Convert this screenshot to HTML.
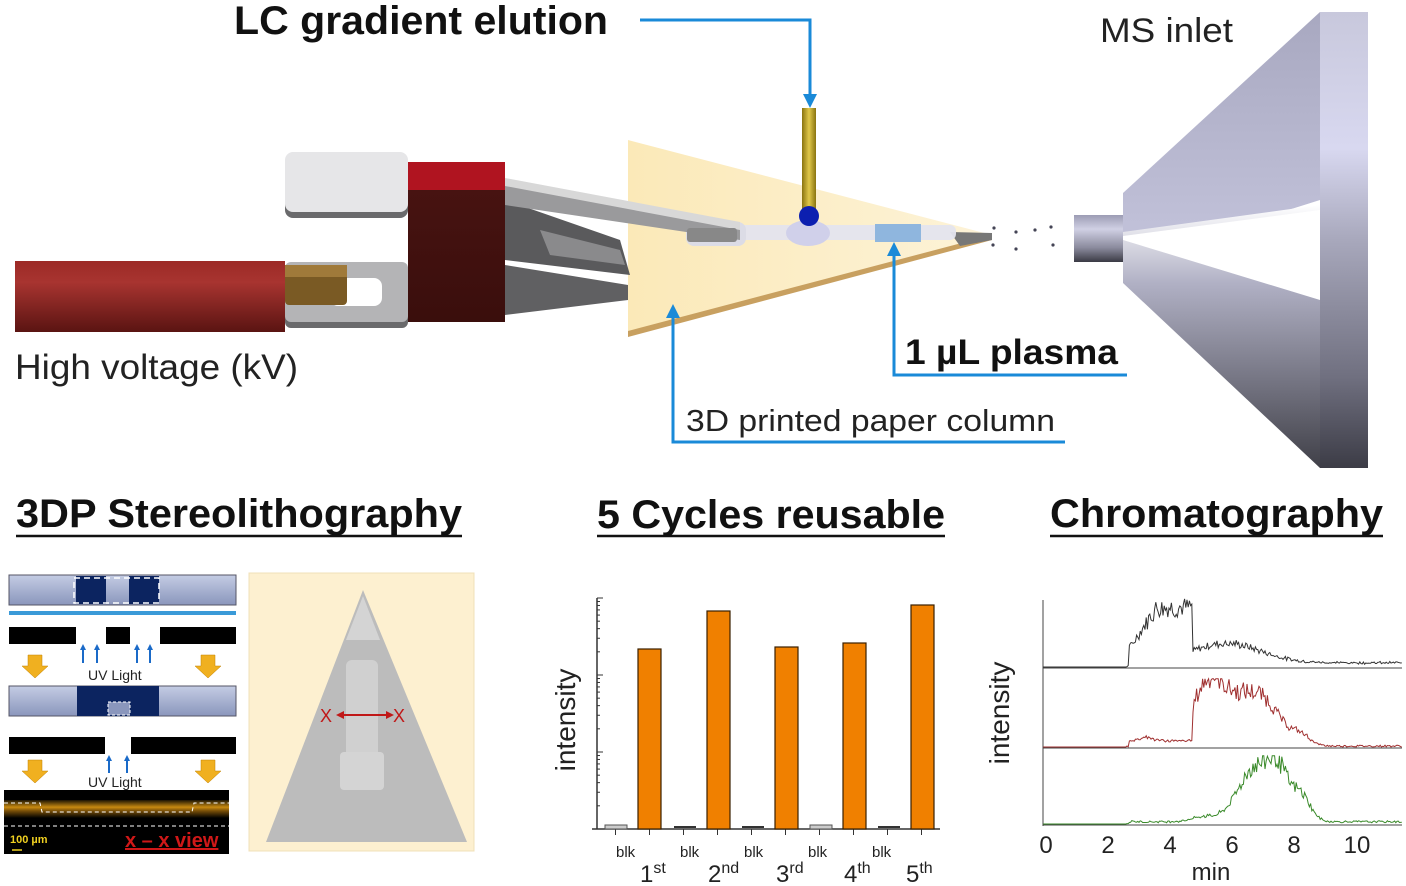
<!DOCTYPE html>
<html><head><meta charset="utf-8"><style>
html,body{margin:0;padding:0;background:#fff;}
svg{display:block;font-family:"Liberation Sans",Arial,sans-serif;}
</style></head><body>
<svg id="s" width="1406" height="886" viewBox="0 0 1406 886" xmlns="http://www.w3.org/2000/svg">
<defs>
<linearGradient id="cable" x1="0" y1="0" x2="0" y2="1"><stop offset="0" stop-color="#9c2a26"/><stop offset="0.3" stop-color="#a83430"/><stop offset="1" stop-color="#5a1412"/></linearGradient>
<linearGradient id="redb" x1="0" y1="0" x2="0" y2="1"><stop offset="0" stop-color="#4a1412"/><stop offset="1" stop-color="#3a0e0c"/></linearGradient>
<linearGradient id="gold" x1="0" y1="0" x2="1" y2="0"><stop offset="0" stop-color="#8a7410"/><stop offset="0.5" stop-color="#e0c84a"/><stop offset="1" stop-color="#8a7410"/></linearGradient>
<linearGradient id="paper" x1="0" y1="0" x2="1" y2="0"><stop offset="0" stop-color="#fbe9b8"/><stop offset="1" stop-color="#fdf3d8"/></linearGradient>
<linearGradient id="flange" x1="0" y1="0" x2="0" y2="1"><stop offset="0" stop-color="#c8c8dc"/><stop offset="0.3" stop-color="#d8d8f0"/><stop offset="0.5" stop-color="#a8a8bc"/><stop offset="0.8" stop-color="#707080"/><stop offset="1" stop-color="#3c3c46"/></linearGradient>
<linearGradient id="coneT" x1="0" y1="0" x2="0" y2="1"><stop offset="0" stop-color="#a8a8c0"/><stop offset="1" stop-color="#c4c4dc"/></linearGradient>
<linearGradient id="coneB" x1="0" y1="0" x2="0" y2="1"><stop offset="0" stop-color="#ffffff"/><stop offset="0.3" stop-color="#b0b0c4"/><stop offset="1" stop-color="#404048"/></linearGradient>
<linearGradient id="tube" x1="0" y1="0" x2="0" y2="1"><stop offset="0" stop-color="#9c9cb4"/><stop offset="0.3" stop-color="#d0d0e4"/><stop offset="0.7" stop-color="#8a8a9c"/><stop offset="1" stop-color="#3a3a44"/></linearGradient>
<linearGradient id="slab" x1="0" y1="0" x2="0" y2="1"><stop offset="0" stop-color="#c4cce4"/><stop offset="1" stop-color="#8a96bc"/></linearGradient>
<linearGradient id="fl" x1="0" y1="0" x2="0" y2="1"><stop offset="0" stop-color="#1c1404"/><stop offset="0.4" stop-color="#c88a10"/><stop offset="0.6" stop-color="#7a5008"/><stop offset="1" stop-color="#000"/></linearGradient>
</defs>

<!-- MS inlet -->
<polygon points="1123,193 1320,12 1320,200 1123,262" fill="url(#coneT)"/>
<polygon points="1123,232 1320,205 1320,468 1123,283" fill="url(#coneB)"/>
<polygon points="1123,236 1320,210 1320,300 1123,240" fill="#ffffff"/>
<rect x="1320" y="12" width="48" height="456" fill="url(#flange)"/>
<rect x="1074" y="215" width="49" height="47" fill="url(#tube)"/>
<text x="1100" y="42" font-size="34" fill="#222" textLength="133" lengthAdjust="spacingAndGlyphs">MS inlet</text>

<!-- paper -->
<polygon points="628,140 992,235 628,335" fill="url(#paper)"/>
<polygon points="628,331 992,235 992,240 628,337" fill="#c8a060"/>
<polygon points="950,232 992,233 992,240 960,246" fill="#777"/>
<rect x="686" y="225" width="270" height="15" rx="6" fill="#e4e4ee" opacity="0.95"/>
<rect x="686" y="222" width="60" height="24" rx="8" fill="#dcdce6"/>
<ellipse cx="808" cy="233" rx="22" ry="13" fill="#d0d0ea"/>
<rect x="875" y="224" width="46" height="18" fill="#8fb6de"/>
<rect x="802" y="108" width="14" height="102" fill="url(#gold)"/>
<circle cx="809" cy="216" r="10" fill="#0c1fb0"/>
<g fill="#445">
<circle cx="994" cy="228" r="1.6"/><circle cx="1016" cy="232" r="1.6"/><circle cx="1035" cy="230" r="1.6"/><circle cx="1051" cy="227" r="1.6"/>
<circle cx="993" cy="245" r="1.6"/><circle cx="1016" cy="249" r="1.6"/><circle cx="1053" cy="245" r="1.6"/>
</g>

<!-- holder -->
<polygon points="505,200 620,240 630,275 505,260" fill="#5a5a5c"/>
<polygon points="505,265 628,285 628,300 505,315" fill="#606062"/>
<polygon points="540,230 620,250 625,265 550,255" fill="#8a8a8c"/>
<polygon points="505,180 740,225 740,240 505,205" fill="#9a9a9c"/>
<polygon points="505,178 740,222 740,230 505,186" fill="#d8d8d8"/>
<rect x="687" y="228" width="50" height="14" rx="3" fill="#888"/>
<rect x="285" y="156" width="123" height="62" rx="8" fill="#6a6a6c"/>
<rect x="285" y="152" width="123" height="60" rx="8" fill="#e6e6e8"/>
<rect x="285" y="264" width="123" height="64" rx="6" fill="#6a6a6c"/>
<rect x="285" y="262" width="123" height="60" rx="6" fill="#b4b4b6"/>
<rect x="330" y="278" width="52" height="28" rx="8" fill="#fff"/>
<rect x="15" y="261" width="270" height="71" fill="url(#cable)"/>
<rect x="285" y="265" width="62" height="40" rx="4" fill="#7a5a24"/>
<rect x="285" y="265" width="62" height="12" fill="#a07a3a"/>
<rect x="408" y="162" width="97" height="160" fill="url(#redb)"/>
<rect x="408" y="162" width="97" height="28" fill="#b01420"/>
<text x="15" y="379" font-size="35" fill="#222" textLength="283" lengthAdjust="spacingAndGlyphs">High voltage (kV)</text>

<!-- connectors -->
<g stroke="#1a8ad8" stroke-width="3" fill="none">
<polyline points="640,20 810,20 810,100"/>
<polyline points="894,250 894,375 1127,375"/>
<polyline points="673,312 673,442 1065,442"/>
</g>
<g fill="#1a8ad8">
<polygon points="803,94 817,94 810,108"/>
<polygon points="887,256 901,256 894,242"/>
<polygon points="666,318 680,318 673,304"/>
</g>
<text x="234" y="34" font-size="40" font-weight="bold" fill="#111" textLength="374" lengthAdjust="spacingAndGlyphs">LC gradient elution</text>
<text x="905" y="364" font-size="35" font-weight="bold" fill="#111" textLength="213" lengthAdjust="spacingAndGlyphs">1 µL plasma</text>
<text x="686" y="431" font-size="31" fill="#222" textLength="369" lengthAdjust="spacingAndGlyphs">3D printed paper column</text>

<!-- headings -->
<g font-size="40" font-weight="bold" fill="#111">
<text x="16" y="527" textLength="446" lengthAdjust="spacingAndGlyphs">3DP Stereolithography</text>
<text x="597" y="528" textLength="348" lengthAdjust="spacingAndGlyphs">5 Cycles reusable</text>
<text x="1050" y="527" textLength="333" lengthAdjust="spacingAndGlyphs">Chromatography</text>
</g>
<g stroke="#111" stroke-width="2.5">
<line x1="16" y1="536" x2="462" y2="536"/>
<line x1="597" y1="536" x2="945" y2="536"/>
<line x1="1050" y1="536" x2="1383" y2="536"/>
</g>

<!-- SLA schematic -->
<rect x="9" y="575" width="227" height="30" fill="url(#slab)" stroke="#556" stroke-width="1"/>
<rect x="76" y="576" width="30" height="28" fill="#0c2460"/><rect x="129" y="576" width="30" height="28" fill="#0c2460"/>
<rect x="74" y="578" width="85" height="25" fill="none" stroke="#fff" stroke-width="1.5" stroke-dasharray="6,4"/>
<rect x="9" y="611" width="227" height="4" fill="#3a9ad8"/>
<rect x="9" y="627" width="227" height="17" fill="#000"/>
<rect x="76" y="627" width="30" height="17" fill="#fff"/><rect x="130" y="627" width="30" height="17" fill="#fff"/>
<rect x="9" y="686" width="227" height="30" fill="url(#slab)" stroke="#556" stroke-width="1"/>
<rect x="77" y="686" width="82" height="30" fill="#0c2460"/>
<rect x="108" y="702" width="22" height="13" fill="#8a96bc" stroke="#fff" stroke-dasharray="3,2"/>
<rect x="9" y="737" width="227" height="17" fill="#000"/>
<rect x="105" y="737" width="26" height="17" fill="#fff"/>
<g fill="#f0b020" stroke="#c08000" stroke-width="0.5">
<polygon points="28,655 42,655 42,666 48,666 35,678 22,666 28,666"/>
<polygon points="201,655 215,655 215,666 221,666 208,678 195,666 201,666"/>
<polygon points="28,760 42,760 42,771 48,771 35,783 22,771 28,771"/>
<polygon points="201,760 215,760 215,771 221,771 208,783 195,771 201,771"/>
</g>
<g stroke="#1a6ac8" stroke-width="2"><line x1="83" y1="663" x2="83" y2="649"/><line x1="97" y1="663" x2="97" y2="649"/><line x1="137" y1="663" x2="137" y2="649"/><line x1="150" y1="663" x2="150" y2="649"/><line x1="109" y1="773" x2="109" y2="760"/><line x1="127" y1="773" x2="127" y2="760"/></g>
<g fill="#1a6ac8"><polygon points="80,650 86,650 83,644"/><polygon points="94,650 100,650 97,644"/><polygon points="134,650 140,650 137,644"/><polygon points="147,650 153,650 150,644"/><polygon points="106,761 112,761 109,755"/><polygon points="124,761 130,761 127,755"/></g>
<text x="88" y="680" font-size="14" fill="#222">UV Light</text>
<text x="88" y="787" font-size="14" fill="#222">UV Light</text>
<rect x="4" y="790" width="225" height="64" fill="#000"/>
<rect x="4" y="800" width="225" height="18" fill="url(#fl)"/>
<rect x="85" y="790" width="66" height="10" fill="#000"/>
<polyline points="4,803 40,803 42,812 192,812 194,803 229,803" fill="none" stroke="#fff" stroke-dasharray="4,3"/>
<line x1="4" y1="826" x2="229" y2="826" stroke="#fff" stroke-dasharray="4,3"/>
<text x="10" y="843" font-size="11" font-weight="bold" fill="#f0d020">100 µm</text>
<line x1="12" y1="850" x2="22" y2="850" stroke="#f0d020" stroke-width="1.5"/>
<text x="125" y="847" font-size="20" font-weight="bold" fill="#d01818" text-decoration="underline">x – x view</text>

<!-- photo -->
<rect x="249" y="573" width="225" height="278" fill="#fdf0d0" stroke="#f0e0b8"/>
<polygon points="363,590 467,842 266,842" fill="#bcbcbc"/>
<polygon points="363,596 380,640 346,640" fill="#d4d4d4"/>
<rect x="346" y="660" width="32" height="100" fill="#d0d0d0" rx="6"/>
<rect x="340" y="752" width="44" height="38" fill="#d4d4d4" rx="4"/>
<text x="320" y="722" font-size="18" fill="#c01818">X</text><text x="393" y="722" font-size="18" fill="#c01818">X</text>
<line x1="340" y1="715" x2="390" y2="715" stroke="#c01818" stroke-width="2"/>
<polygon points="336,715 344,711 344,719" fill="#c01818"/><polygon points="394,715 386,711 386,719" fill="#c01818"/>

<!-- bar chart -->
<g stroke="#333" stroke-width="1.5" fill="none">
<line x1="597" y1="598" x2="597" y2="829"/><line x1="592" y1="829" x2="940" y2="829"/>
</g>
<g id="ticks" stroke="#333" stroke-width="1"></g>
<g fill="#f08000" stroke="#3a2000" stroke-width="1.2">
<rect x="638" y="649" width="23" height="180"/>
<rect x="707" y="611" width="23" height="218"/>
<rect x="775" y="647" width="23" height="182"/>
<rect x="843" y="643" width="23" height="186"/>
<rect x="911" y="605" width="23" height="224"/>
</g>
<g fill="#ccc" stroke="#555"><rect x="605" y="825" width="22" height="4"/><rect x="810" y="825" width="22" height="4"/></g>
<g fill="#333"><rect x="674" y="826" width="22" height="2"/><rect x="742" y="826" width="22" height="2"/><rect x="878" y="826" width="22" height="2"/></g>
<g font-size="15" fill="#222">
<text x="616" y="857">blk</text><text x="680" y="857">blk</text><text x="744" y="857">blk</text><text x="808" y="857">blk</text><text x="872" y="857">blk</text>
</g>
<g font-size="24" fill="#222">
<text x="640" y="882">1<tspan font-size="16" dy="-9">st</tspan></text>
<text x="708" y="882">2<tspan font-size="16" dy="-9">nd</tspan></text>
<text x="776" y="882">3<tspan font-size="16" dy="-9">rd</tspan></text>
<text x="844" y="882">4<tspan font-size="16" dy="-9">th</tspan></text>
<text x="906" y="882">5<tspan font-size="16" dy="-9">th</tspan></text>
</g>
<text transform="translate(575,720) rotate(-90)" font-size="28" fill="#222" text-anchor="middle">intensity</text>

<!-- chromatography -->
<g stroke="#444" stroke-width="1" fill="none">
<line x1="1043" y1="600" x2="1043" y2="826"/>
<line x1="1043" y1="668" x2="1402" y2="668"/>
<line x1="1043" y1="748" x2="1402" y2="748"/>
<line x1="1043" y1="825" x2="1402" y2="825"/>
</g>
<polyline id="c1" fill="none" stroke="#333" stroke-width="1"/>
<polyline id="c2" fill="none" stroke="#a03030" stroke-width="1"/>
<polyline id="c3" fill="none" stroke="#3a8a2a" stroke-width="1"/>
<g font-size="24" fill="#222" text-anchor="middle">
<text x="1046" y="853">0</text><text x="1108" y="853">2</text><text x="1170" y="853">4</text><text x="1232" y="853">6</text><text x="1294" y="853">8</text><text x="1357" y="853">10</text>
<text x="1211" y="880">min</text>
</g>
<text transform="translate(1009,713) rotate(-90)" font-size="28" fill="#222" text-anchor="middle">intensity</text>
</svg>
<script>
var t=document.getElementById('ticks'),h='';
[598,675,752].forEach(function(y0){for(var i=0;i<9;i++){var yy=y0+77-77*Math.log10(10-i);h+='<line x1="597" y1="'+yy+'" x2="'+(i==0?603:600)+'" y2="'+yy+'"/>';}});
for(var i=0;i<5;i++){var x=649.5+i*68;h+='<line x1="'+x+'" y1="829" x2="'+x+'" y2="835"/><line x1="'+(x-34)+'" y1="829" x2="'+(x-34)+'" y2="835"/>';}
t.innerHTML=h;
var seed=7;function r(){seed=(seed*9301+49297)%233280;return seed/233280;}
function g(x,m,s){return Math.exp(-Math.pow((x-m)/s,2)/2);}
function trace(id,base,amp,f){var p=[];for(var x=1043;x<=1402;x+=1.2){var m=(x-1046)/31.1;var v=f(m);v=v*(1+0.35*(r()-0.5))+ (m>2.6?0.03*r():0);p.push(x.toFixed(1)+','+(base-amp*Math.min(v,1.05)).toFixed(1));}document.getElementById(id).setAttribute('points',p.join(' '));}
trace('c1',667,65,function(m){if(m<2.65)return 0;var v=0;if(m<4.7)v=0.25+0.65*Math.min(1,(m-2.65)/0.9);else v=0.3*g(m,5.8,1.1)+0.05;return v;});
trace('c2',747,65,function(m){if(m<2.65)return 0;if(m<4.7)return 0.08+0.06*g(m,3.2,0.2);return 0.9*g(m,5.2,0.5)+0.7*g(m,6.4,0.7)+0.3*g(m,7.2,0.5)+0.15*g(m,8.2,0.3);});
trace('c3',824,65,function(m){if(m<2.65)return 0;return 0.08*g(m,5.1,0.4)+0.6*g(m,6.7,0.35)+0.9*g(m,7.4,0.35)+0.4*g(m,8.2,0.3)+0.3*g(m,6.2,0.4)+0.02;});
</script>
</body></html>
